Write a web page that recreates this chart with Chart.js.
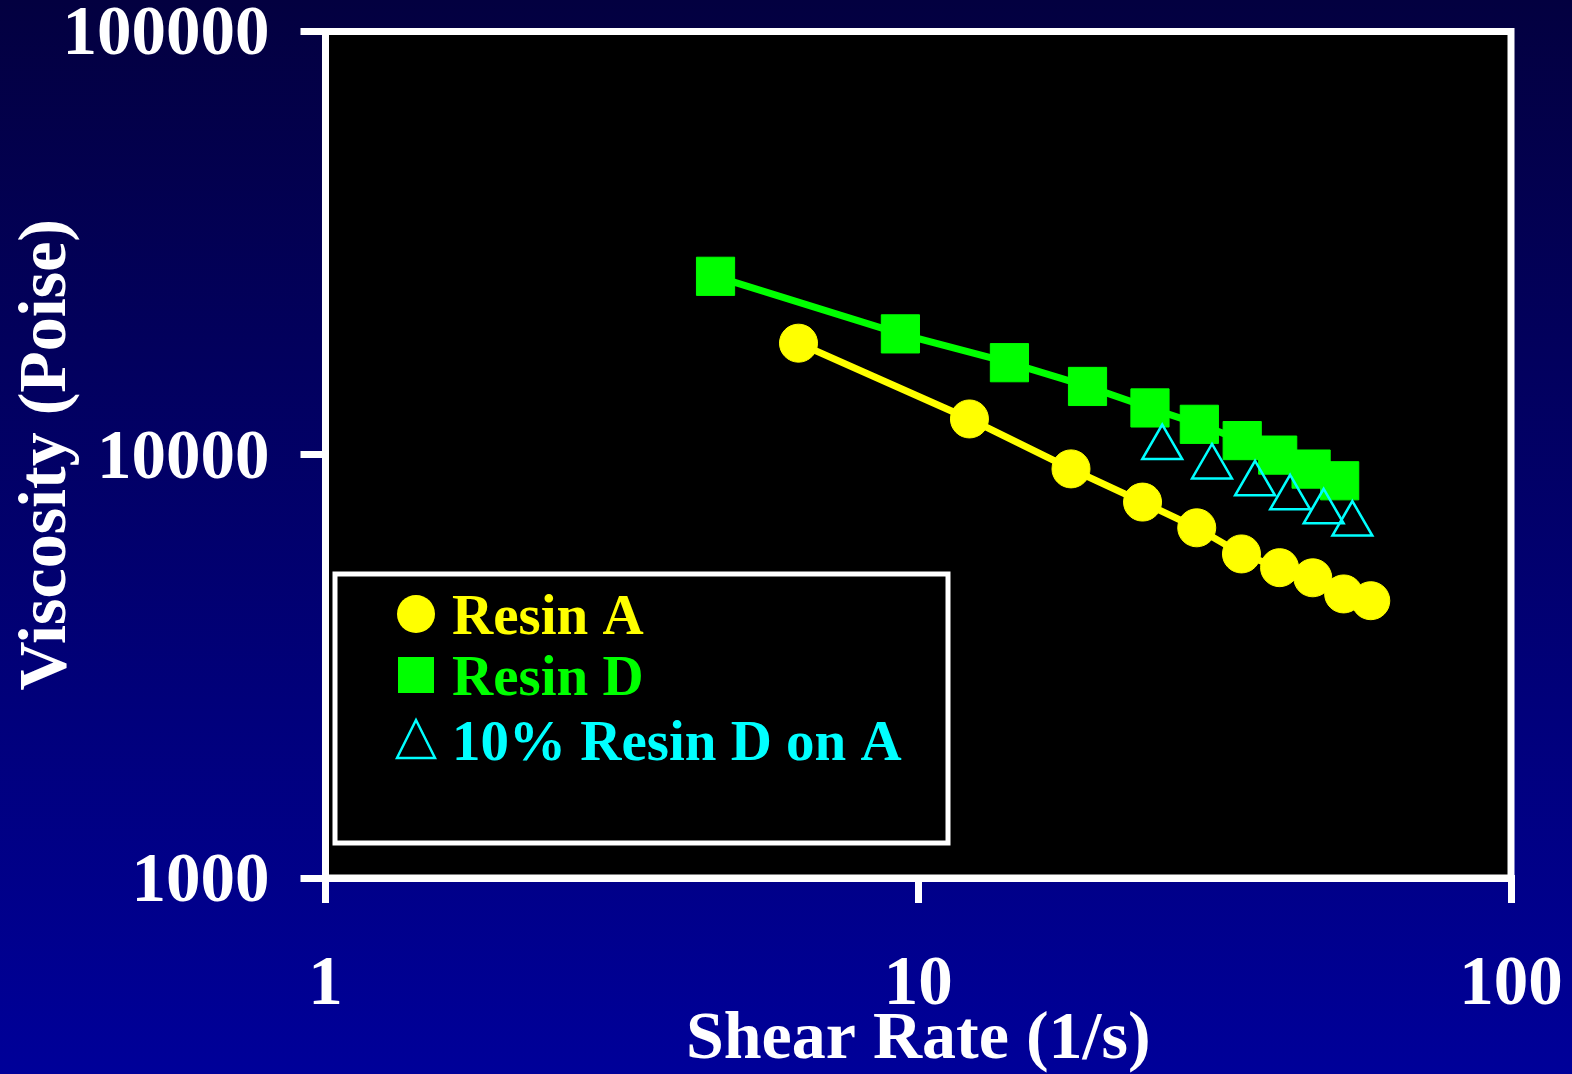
<!DOCTYPE html>
<html>
<head>
<meta charset="utf-8">
<script src="https://cdn.jsdelivr.net/npm/chart.js@4.4.1/dist/chart.umd.min.js"></script>
<style>
  html, body { margin: 0; padding: 0; }
  body {
    width: 1572px;
    height: 1074px;
    overflow: hidden;
    background: linear-gradient(to bottom, #030040 0%, #000099 100%);
  }
</style>
</head>
<body>
<canvas id="viscosityChart" width="1572" height="1074"></canvas>
<script>
// values (shear rate in 1/s, viscosity in poise)
const resinARate = [6.28, 12.2, 18.1, 23.9, 29.5, 35.1, 40.7, 46.3, 52.2, 58.0];
const resinAVisc = [18350, 12150, 9260, 7730, 6720, 5830, 5410, 5120, 4690, 4520];

const resinDRate = [4.55, 9.33, 14.25, 19.3, 24.6, 29.8, 35.2, 40.4, 46.0, 51.4];
const resinDVisc = [26400, 19300, 16500, 14500, 12900, 11800, 10800, 9980, 9250, 8680];

const blendRate = [25.8, 31.3, 37.0, 42.4, 48.3, 54.0];
const blendVisc = [10400, 9360, 8540, 7910, 7330, 6860];

const xTickValues = [1, 10, 100];
const yTickValues = [1000, 10000, 100000];

const seriesLabels = ['Resin A', 'Resin D', '10% Resin D on A'];

function toPoints(xs, ys) {
    return xs.map((x, i) => ({ x: x, y: ys[i] }));
}

const serif = '"Liberation Serif", "Times New Roman", serif';

// black plot area with white frame
const plotFrame = {
    id: 'plotFrame',
    beforeDraw(chart) {
        const a = chart.chartArea;
        const ctx = chart.ctx;
        ctx.save();
        ctx.fillStyle = '#000000';
        ctx.fillRect(a.left, a.top, a.right - a.left, a.bottom - a.top);
        ctx.restore();
    },
    afterDraw(chart) {
        const a = chart.chartArea;
        const ctx = chart.ctx;
        ctx.save();
        ctx.strokeStyle = '#ffffff';
        ctx.lineWidth = 7;
        ctx.strokeRect(a.left, a.top, a.right - a.left, a.bottom - a.top);
        ctx.restore();
    }
};

// boxed legend in the lower left of the plot
const boxLegend = {
    id: 'boxLegend',
    afterDraw(chart) {
        const ctx = chart.ctx;
        ctx.save();
        ctx.fillStyle = '#000000';
        ctx.fillRect(335, 574, 613, 269);
        ctx.strokeStyle = '#ffffff';
        ctx.lineWidth = 5;
        ctx.strokeRect(335, 574, 613, 269);

        const rows = [614, 675, 740];
        const baselines = [634, 695, 760];
        chart.data.datasets.forEach((ds, i) => {
            const color = ds.borderColor;
            const cx = 416, cy = rows[i];
            ctx.fillStyle = color;
            ctx.strokeStyle = color;
            ctx.beginPath();
            if (ds.pointStyle === 'circle') {
                ctx.arc(cx, cy, 19, 0, Math.PI * 2);
                ctx.fill();
            } else if (ds.pointStyle === 'rect') {
                ctx.fillRect(cx - 18, cy - 18, 36, 36);
            } else {
                ctx.lineWidth = 2.5;
                ctx.moveTo(cx, cy - 20);
                ctx.lineTo(cx + 19, cy + 18);
                ctx.lineTo(cx - 19, cy + 18);
                ctx.closePath();
                ctx.stroke();
            }
            ctx.font = 'bold 57px ' + serif;
            ctx.textAlign = 'left';
            ctx.textBaseline = 'alphabetic';
            ctx.fillText(ds.label, 452, baselines[i]);
        });
        ctx.restore();
    }
};

const ctx = document.getElementById('viscosityChart').getContext('2d');

new Chart(ctx, {
    type: 'line',
    data: {
        datasets: [
            {
                label: seriesLabels[0],
                data: toPoints(resinARate, resinAVisc),
                borderColor: '#ffff00',
                backgroundColor: '#ffff00',
                borderWidth: 7,
                pointStyle: 'circle',
                pointRadius: 19,
                pointBorderWidth: 1,
                showLine: true,
                order: 2
            },
            {
                label: seriesLabels[1],
                data: toPoints(resinDRate, resinDVisc),
                borderColor: '#00ff00',
                backgroundColor: '#00ff00',
                borderWidth: 7,
                pointStyle: 'rect',
                pointRadius: 27,
                pointBorderWidth: 1,
                showLine: true,
                order: 1
            },
            {
                label: seriesLabels[2],
                data: toPoints(blendRate, blendVisc),
                borderColor: '#00ffff',
                backgroundColor: 'rgba(0,0,0,0)',
                pointStyle: 'triangle',
                pointRadius: 23,
                pointBorderWidth: 2.5,
                showLine: false,
                order: 0
            }
        ]
    },
    options: {
        responsive: false,
        animation: false,
        events: [],
        layout: {
            padding: { top: 31.5, right: 61, left: 0, bottom: 0 }
        },
        plugins: {
            legend: { display: false },
            tooltip: { enabled: false }
        },
        scales: {
            x: {
                type: 'logarithmic',
                min: 1,
                max: 100,
                afterBuildTicks: s => { s.ticks = xTickValues.map(v => ({ value: v })); },
                afterFit: s => { s.height = 196; s.paddingLeft = 0; s.paddingRight = 0; },
                ticks: {
                    color: '#ffffff',
                    font: { family: serif, weight: 'bold', size: 69 },
                    padding: 42,
                    maxRotation: 0,
                    autoSkip: false,
                    callback: v => String(v)
                },
                grid: {
                    drawOnChartArea: false,
                    drawTicks: true,
                    tickLength: 25,
                    color: '#ffffff',
                    lineWidth: 7
                },
                border: { display: true, color: '#ffffff', width: 7 },
                title: {
                    display: true,
                    text: 'Shear Rate (1/s)',
                    color: '#ffffff',
                    font: { family: serif, weight: 'bold', size: 68 },
                    padding: { top: 0, bottom: -7 }
                }
            },
            y: {
                type: 'logarithmic',
                min: 1000,
                max: 100000,
                afterBuildTicks: s => { s.ticks = yTickValues.map(v => ({ value: v })); },
                afterFit: s => { s.width = 325.5; s.paddingTop = 0; s.paddingBottom = 0; },
                ticks: {
                    color: '#ffffff',
                    font: { family: serif, weight: 'bold', size: 69 },
                    padding: 31,
                    labelOffset: 5,
                    autoSkip: false,
                    callback: v => String(v)
                },
                grid: {
                    drawOnChartArea: false,
                    drawTicks: true,
                    tickLength: 25,
                    color: '#ffffff',
                    lineWidth: 7
                },
                border: { display: true, color: '#ffffff', width: 7 },
                title: {
                    display: true,
                    text: 'Viscosity (Poise)',
                    color: '#ffffff',
                    font: { family: serif, weight: 'bold', size: 68 },
                    padding: { top: 7, bottom: 0 }
                }
            }
        }
    },
    plugins: [plotFrame, boxLegend]
});
</script>
</body>
</html>
